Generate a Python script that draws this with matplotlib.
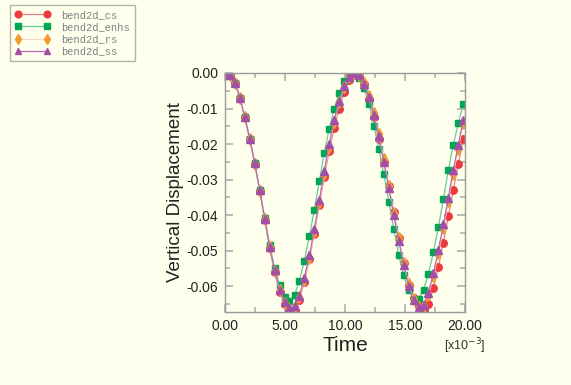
import matplotlib
matplotlib.use("Agg")
import matplotlib.pyplot as plt
from matplotlib.ticker import MultipleLocator, FixedLocator

# time in units of 1e-3
time = [0.00, 0.41, 0.83, 1.24, 1.66, 2.07, 2.48, 2.90, 3.31, 3.73,
        4.14, 4.55, 4.97, 5.38, 5.80, 6.21, 6.62, 7.04, 7.45, 7.87,
        8.28, 8.69, 9.11, 9.52, 9.94, 10.35, 10.76, 11.18, 11.59, 12.01,
        12.42, 12.83, 13.25, 13.66, 14.08, 14.49, 14.90, 15.32, 15.73, 16.15,
        16.56, 16.97, 17.39, 17.80, 18.22, 18.63, 19.04, 19.46, 19.87]

disp_cs = [0.0000, -0.0006, -0.0027, -0.0069, -0.0125, -0.0187, -0.0256, -0.0333, -0.0413, -0.0493,
           -0.0561, -0.0616, -0.0651, -0.0670, -0.0669, -0.0638, -0.0588, -0.0525, -0.0452, -0.0372,
           -0.0292, -0.0220, -0.0155, -0.0100, -0.0054, -0.0021, -0.0003, -0.0008, -0.0032, -0.0072,
           -0.0124, -0.0185, -0.0250, -0.0318, -0.0392, -0.0466, -0.0535, -0.0596, -0.0633, -0.0655,
           -0.0668, -0.0650, -0.0605, -0.0546, -0.0478, -0.0404, -0.0330, -0.0255, -0.0186]

disp_enhs = [0.0000, -0.0006, -0.0027, -0.0069, -0.0125, -0.0186, -0.0254, -0.0329, -0.0407, -0.0485,
             -0.0548, -0.0596, -0.0630, -0.0641, -0.0626, -0.0585, -0.0528, -0.0460, -0.0385, -0.0305,
             -0.0225, -0.0158, -0.0100, -0.0056, -0.0022, -0.0004, -0.0001, -0.0014, -0.0042, -0.0088,
             -0.0148, -0.0215, -0.0285, -0.0362, -0.0440, -0.0512, -0.0570, -0.0612, -0.0635, -0.0636,
             -0.0610, -0.0566, -0.0503, -0.0434, -0.0354, -0.0274, -0.0202, -0.0142, -0.0088]

disp_rs = [0.0000, -0.0006, -0.0027, -0.0069, -0.0125, -0.0187, -0.0255, -0.0331, -0.0411, -0.0491,
           -0.0558, -0.0612, -0.0647, -0.0665, -0.0659, -0.0632, -0.0582, -0.0520, -0.0448, -0.0366,
           -0.0283, -0.0207, -0.0138, -0.0082, -0.0040, -0.0012, 0.0000, -0.0005, -0.0027, -0.0064,
           -0.0113, -0.0172, -0.0243, -0.0318, -0.0393, -0.0465, -0.0534, -0.0595, -0.0637, -0.0658,
           -0.0657, -0.0625, -0.0571, -0.0508, -0.0436, -0.0361, -0.0284, -0.0213, -0.0142]

disp_ss = [0.0000, -0.0006, -0.0027, -0.0069, -0.0125, -0.0186, -0.0254, -0.0330, -0.0410, -0.0490,
           -0.0556, -0.0610, -0.0644, -0.0663, -0.0656, -0.0627, -0.0576, -0.0513, -0.0440, -0.0358,
           -0.0275, -0.0200, -0.0132, -0.0078, -0.0036, -0.0010, 0.0000, -0.0006, -0.0030, -0.0068,
           -0.0118, -0.0178, -0.0250, -0.0325, -0.0400, -0.0472, -0.0540, -0.0600, -0.0640, -0.0658,
           -0.0654, -0.0619, -0.0563, -0.0499, -0.0426, -0.0351, -0.0273, -0.0203, -0.0132]

labels = ["bend2d_cs", "bend2d_enhs", "bend2d_rs", "bend2d_ss"]
x_ticks = [0, 5, 10, 15, 20]
y_ticks = [0.0, -0.01, -0.02, -0.03, -0.04, -0.05, -0.06]

BG = "#ffffee"
GREY = "#9a9a9a"

plt.rcParams["font.family"] = ["Liberation Sans", "DejaVu Sans"]

fig = plt.figure(figsize=(5.71, 3.85), dpi=100, facecolor=BG)
ax = fig.add_axes([0.394, 0.1896, 0.420, 0.6208], facecolor=BG)

styles = [
    dict(color="#ee8080", marker="o", mfc="#ec3b40", mec="#ec3b40", ms=5.4),
    dict(color="#66cc99", marker="s", mfc="#00a651", mec="#00a651", ms=5.0),
    dict(color="#fbdcc0", marker="d", mfc="#f39a30", mec="#f39a30", ms=5.8),
    dict(color="#b46ab4", marker="^", mfc="#a24fa8", mec="#a24fa8", ms=5.4),
]
series = [disp_cs, disp_enhs, disp_rs, disp_ss]

lines = []
for vals, lab, st in zip(series, labels, styles):
    ln, = ax.plot(time, vals, lw=0.9, label=lab, **st)
    lines.append(ln)

ax.set_xlim(0, 20)
ax.set_ylim(-0.0673, 0.0)

ax.xaxis.set_major_locator(FixedLocator(x_ticks))
ax.xaxis.set_minor_locator(MultipleLocator(2.5))
ax.yaxis.set_major_locator(FixedLocator(y_ticks))
ax.yaxis.set_minor_locator(MultipleLocator(0.005))
ax.set_xticklabels([f"{v:.2f}" for v in x_ticks])
ax.set_yticklabels([f"{v:.2f}" for v in y_ticks])

ax.tick_params(which="both", direction="in", top=True, right=True,
               color="#b0b0b0", labelsize=10, labelcolor="#222222", width=1.2)
ax.tick_params(which="major", length=6, pad=5)
ax.tick_params(which="minor", length=3.5)

for sp in ax.spines.values():
    sp.set_color(GREY)
    sp.set_linewidth(1.0)

ax.set_xlabel("Time", fontsize=15, color="#222222", labelpad=2)
ax.set_ylabel("Vertical Displacement", fontsize=13.5, color="#222222", labelpad=2)

fig.text(465 / 571, 1 - 346 / 385, r"[x10$^{-3}$]", fontsize=9, color="#333333",
         ha="center", va="center")

leg = fig.legend(handles=lines, labels=labels, loc="upper left",
                 bbox_to_anchor=(10 / 571, 1 - 5 / 385), numpoints=2,
                 prop={"family": "Liberation Mono", "size": 7.5},
                 frameon=True, fancybox=False, handlelength=3.4,
                 labelspacing=0.22, borderpad=0.45, handletextpad=1.1,
                 borderaxespad=0, markerscale=0.9)
leg.get_frame().set_edgecolor("#a0a0a0")
leg.get_frame().set_facecolor(BG)
leg.get_frame().set_linewidth(1.0)
for t in leg.get_texts():
    t.set_color("#808080")

fig.savefig("out.png", dpi=100, facecolor=BG)
